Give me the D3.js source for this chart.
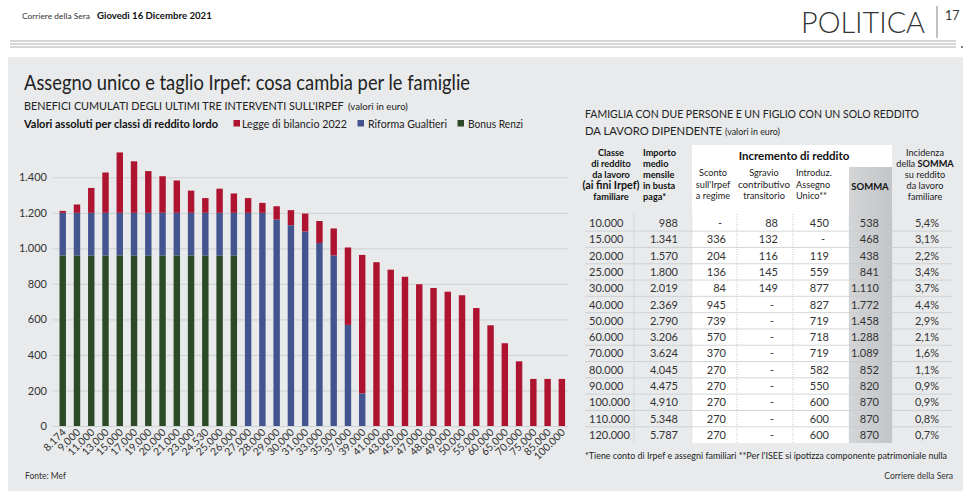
<!DOCTYPE html>
<html><head><meta charset="utf-8">
<script src="https://cdn.jsdelivr.net/npm/d3@7"></script>
<style>body{margin:0;background:#fff}svg{display:block}text{font-family:Lato,"Noto Sans",sans-serif}</style>
</head><body><svg id="c" width="971" height="491"></svg>
<script>
// ---------- DATA ----------
const categories = ["8.174","9.000","11.000","13.000","15.000","17.000","19.000","20.000","21.000","23.000","24.530","25.000","26.000","27.000","28.000","29.000","30.000","31.000","33.000","35.000","37.000","39.000","41.000","43.000","45.000","47.000","48.000","49.000","50.000","55.000","60.000","65.000","70.000","75.000","85.000","100.000"];
const bonusRenzi =       [960,960,960,960,960,960,960,960,960,960,960,960,960,0,0,0,0,0,0,0,0,0,0,0,0,0,0,0,0,0,0,0,0,0,0,0];
const riformaGualtieri = [240,240,240,240,240,240,240,240,240,240,240,240,240,1200,1200,1162,1130,1095,1030,960,569,184,0,0,0,0,0,0,0,0,0,0,0,0,0,0];
const leggeBilancio =    [11,47,140,227,340,290,235,206,182,125,83,136,109,83,56,75,85,101,124,152,436,779,922,880,840,798,777,756,736,664,567,466,364,265,265,265];
const yTicks = [0,200,400,600,800,1000,1200,1400];
const yTickLabels = ["0","200","400","600","800","1.000","1.200","1.400"];
const seriesNames = ["Legge di bilancio 2022","Riforma Gualtieri","Bonus Renzi"];

const tClasse =   ["10.000","15.000","20.000","25.000","30.000","40.000","50.000","60.000","70.000","80.000","90.000","100.000","110.000","120.000"];
const tImporto =  ["988","1.341","1.570","1.800","2.019","2.369","2.790","3.206","3.624","4.045","4.475","4.910","5.348","5.787"];
const tSconto =   ["-","336","204","136","84","945","739","570","370","270","270","270","270","270"];
const tSgravio =  ["88","132","116","145","149","-","-","-","-","-","-","-","-","-"];
const tAssegno =  ["450","-","119","559","877","827","719","718","719","582","550","600","600","600"];
const tSomma =    ["538","468","438","841","1.110","1.772","1.458","1.288","1.089","852","820","870","870","870"];
const tIncidenza =["5,4%","3,1%","2,2%","3,4%","3,7%","4,4%","2,9%","2,1%","1,6%","1,1%","0,9%","0,9%","0,8%","0,7%"];

// ---------- DRAW ----------
const svg = d3.select("#c");
const RED="#ae1330", BLUE="#43548f", GREEN="#2c4a26";

function txt(x, y, s, o={}) {
  const size = o.size||11;
  const t = svg.append("text").attr("x",x).attr("y",y).text(s)
    .attr("font-size", size).attr("fill", o.fill||"#222")
    .attr("font-weight", o.weight||400).attr("text-anchor", o.anchor||"start");
  if (o.family) t.attr("font-family", o.family);
  if (o.fit) {
    const w = t.node().getComputedTextLength();
    if (w > 0) t.attr("font-size", size*o.fit/w);
  }
  if (o.width) t.attr("textLength", o.width).attr("lengthAdjust","spacingAndGlyphs");
  return t;
}

// page header
txt(22, 19, "Corriere della Sera", {size:10.5, fill:"#333", fit:68});
txt(97, 19, "Giovedì 16 Dicembre 2021", {size:10.5, weight:700, fill:"#111", fit:115});
txt(925, 33, "POLITICA", {size:29, weight:300, fill:"#333", anchor:"end", width:124});
svg.append("line").attr("x1",937).attr("x2",937).attr("y1",6).attr("y2",38).attr("stroke","#666").attr("stroke-width",0.8);
txt(945, 20, "17", {size:12.5, fill:"#333", family:"'DejaVu Serif','Liberation Serif',serif"});
[41,44,47].forEach(yy => svg.append("line").attr("x1",10).attr("x2",956).attr("y1",yy).attr("y2",yy).attr("stroke","#8a8a8a").attr("stroke-width",0.7));
svg.append("circle").attr("cx",962).attr("cy",47).attr("r",1).attr("fill","#555");

// panel
svg.append("rect").attr("x",8).attr("y",57).attr("width",955).attr("height",434).attr("fill","#e8eaeb");

// titles
txt(24, 90, "Assegno unico e taglio Irpef: cosa cambia per le famiglie", {size:21, fill:"#222", width:446});
txt(24, 110, "BENEFICI CUMULATI DEGLI ULTIMI TRE INTERVENTI SULL'IRPEF", {size:11.5, fill:"#222", fit:320});
txt(348, 110, "(valori in euro)", {size:8.5, fill:"#222", fit:60});
txt(24, 128, "Valori assoluti per classi di reddito lordo", {size:11, weight:700, fill:"#111", width:194});
const legX = [233.5, 357.5, 457.5], legTX=[242,368,468], legW=[105,79,55], legC=[RED,BLUE,GREEN];
seriesNames.forEach((n,i)=>{
  svg.append("rect").attr("x",legX[i]).attr("y",120).attr("width",6.5).attr("height",6.5).attr("fill",legC[i]);
  txt(legTX[i], 128, n, {size:11, fill:"#222", width:legW[i]});
});

// chart
const x = d3.scaleBand().domain(categories).range([55.6, 569]).paddingInner(0.55).paddingOuter(0.275);
const y = d3.scaleLinear().domain([0,1400]).range([426,177.3]);

const yAxis = d3.axisLeft(y).tickValues(yTicks).tickFormat((d,i)=>yTickLabels[i]).tickSize(-(568-53)).tickPadding(6);
const ga = svg.append("g").attr("transform","translate(53,0)").call(yAxis);
ga.select(".domain").remove();
ga.selectAll(".tick line").attr("stroke","#cfd2d4").attr("stroke-width",1);
ga.selectAll(".tick text").attr("font-size",11).attr("fill","#333").attr("font-family","Lato,sans-serif");

const rows = categories.map((c,i)=>({cat:c, renzi:bonusRenzi[i], gualtieri:riformaGualtieri[i], legge:leggeBilancio[i]}));
const stack = d3.stack().keys(["renzi","gualtieri","legge"])(rows);
const colMap = {renzi:GREEN, gualtieri:BLUE, legge:RED};
svg.append("g").selectAll("g").data(stack).join("g").attr("fill",d=>colMap[d.key])
  .selectAll("rect").data(d=>d).join("rect")
  .attr("x",d=>x(d.data.cat)).attr("width",x.bandwidth())
  .attr("y",d=>y(d[1])).attr("height",d=>Math.max(0,y(d[0])-y(d[1])));

categories.forEach(c=>{
  svg.append("text").attr("transform",`translate(${x(c)+x.bandwidth()/2+4},433) rotate(-45)`)
    .attr("text-anchor","end").attr("font-size",10.5).attr("fill","#333").text(c);
});

txt(25, 479, "Fonte: Mef", {size:8.5, fill:"#333"});

// table
txt(585, 117.5, "FAMIGLIA CON DUE PERSONE E UN FIGLIO CON UN SOLO REDDITO", {size:11.5, fill:"#222", width:334});
txt(585, 134.5, "DA LAVORO DIPENDENTE", {size:11.5, fill:"#222", width:137});
txt(725, 134.5, "(valori in euro)", {size:8.5, fill:"#222", width:55});

const defs = svg.append("defs");
const lg = defs.append("linearGradient").attr("id","sg").attr("x1","0").attr("x2","1");
lg.append("stop").attr("offset","0").attr("stop-color","#d3d5d7");
lg.append("stop").attr("offset","1").attr("stop-color","#c2c4c7");

const rowY = i => 223 + i*16.3;
const tTop = 214, tBot = 443;
svg.append("rect").attr("x",692).attr("y",145).attr("width",200).attr("height",tBot-145).attr("fill","#fff");
svg.append("rect").attr("x",849).attr("y",167).attr("width",43).attr("height",tBot-167).attr("fill","url(#sg)");
[634,737,793].forEach(xx=>svg.append("line").attr("x1",xx).attr("x2",xx).attr("y1",tTop).attr("y2",tBot)
  .attr("stroke","#aeb1b4").attr("stroke-width",0.8).attr("stroke-dasharray","1,1.5"));
[692,849,892].forEach(xx=>svg.append("line").attr("x1",xx).attr("x2",xx).attr("y1",tTop).attr("y2",tBot)
  .attr("stroke","#c4c7c9").attr("stroke-width",0.6).attr("stroke-dasharray","1,1.5"));
for (let i=0;i<tClasse.length-1;i++){
  const yy = rowY(i)+8.15;
  svg.append("line").attr("x1",585).attr("x2",952).attr("y1",yy).attr("y2",yy).attr("stroke","#c9ccce").attr("stroke-width",0.8);
}

// headers
const hy = [155.5,166.7,177.9,189.1,200.3];
["Classe","di reddito","da lavoro","(ai fini Irpef)","familiare"].forEach((s,i)=>
  txt(611,hy[i],s,{size:9.2, weight:700, fill:"#111", anchor:"middle", fit: i===3?57:undefined}));
["Importo","medio","mensile","in busta","paga*"].forEach((s,i)=>
  txt(643,hy[i],s,{size:9.2, weight:700, fill:"#111"}));
txt(794, 160, "Incremento di reddito", {size:11.5, weight:700, fill:"#111", anchor:"middle"});
const sy = [176.3,187.5,198.7];
const sOpt = {size:9.2, fill:"#222", anchor:"middle"};
["Sconto","sull'Irpef","a regime"].forEach((s,i)=>txt(713,sy[i],s,sOpt));
["Sgravio","contributivo","transitorio"].forEach((s,i)=>txt(764,sy[i],s,Object.assign({fit: i===1?52:undefined},sOpt)));
["Introduz.","Assegno","Unico**"].forEach((s,i)=>txt(796,sy[i],s,{size:9.2, fill:"#222"}));
txt(870, 189.5, "SOMMA", {size:9.5, weight:700, fill:"#111", anchor:"middle"});
["Incidenza","della ","su reddito","da lavoro","familiare"].forEach((s,i)=>{
  if (i===1) {
    const t = svg.append("text").attr("x",925).attr("y",hy[i]).attr("text-anchor","middle").attr("font-size",9.2).attr("fill","#222");
    t.append("tspan").text("della ");
    t.append("tspan").attr("font-weight",700).attr("fill","#111").text("SOMMA");
  } else txt(925,hy[i],s,sOpt);
});

// rows
const cols = [
  {data:tClasse, x:589, anchor:"start"},
  {data:tImporto, x:678, anchor:"end"},
  {data:tSconto, x:726, anchor:"end"},
  {data:tSgravio, x:778, anchor:"end"},
  {data:tAssegno, x:829, anchor:"end"},
  {data:tSomma, x:879, anchor:"end"},
  {data:tIncidenza, x:939, anchor:"end"}
];
cols.forEach(c=>{
  c.data.forEach((v,i)=>{
    if (v==="-") txt(c.x-6, rowY(i)+4, "-", {size:11, fill:"#333", anchor:"middle"});
    else txt(c.x, rowY(i)+4, v, {size:11, fill:"#333", anchor:c.anchor});
  });
});

txt(585, 459, "*Tiene conto di Irpef e assegni familiari **Per l'ISEE si ipotizza componente patrimoniale nulla", {size:8.5, fill:"#222", width:362});
txt(953, 479, "Corriere della Sera", {size:8.5, fill:"#333", anchor:"end"});
</script></body></html>
